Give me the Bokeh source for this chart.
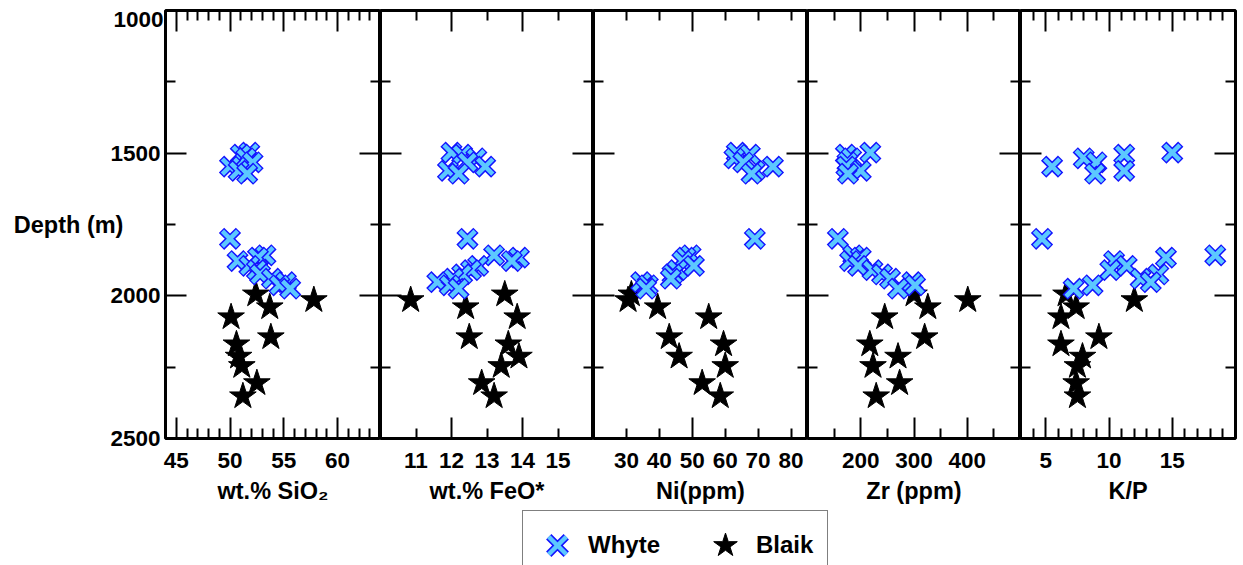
from bokeh.plotting import figure
from bokeh.layouts import row, column
from bokeh.models import Range1d, LinearAxis, FixedTicker, Legend, LegendItem
from bokeh.embed import file_html
from bokeh.resources import INLINE

FONT = "Liberation Sans"
TICK_FONT_SIZE = "22.5px"
TITLE_FONT_SIZE = "23.5px"

# Whyte samples: depth (m) and chemistry
whyte_depth = [1498, 1505, 1518, 1532, 1547, 1562, 1572,
               1800, 1858, 1866, 1878, 1895, 1910, 1925, 1940, 1952, 1963, 1975]
whyte_sio2 = [51.8, 51.0, 51.5, 52.1, 50.0, 50.8, 51.6,
              50.0, 53.3, 52.6, 50.7, 51.8, 52.5, 52.8, 53.9, 55.2, 54.6, 55.6]
whyte_feo = [12.0, 12.3, 12.7, 12.45, 12.95, 11.9, 12.2,
             12.45, 13.2, 13.9, 13.7, 12.75, 12.55, 12.3, 12.05, 11.6, 11.95, 12.2]
whyte_ni = [63.5, 67.5, 62.8, 65.5, 74.5, 69.0, 68.0,
            69.0, 49.5, 48.0, 47.0, 50.5, 45.5, 44.0, 43.5, 34.5, 36.5, 36.0]
whyte_zr = [218, 172, 182, 175, 173, 200, 176,
            157, 186, 200, 180, 195, 222, 240, 255, 297, 302, 270]
whyte_kp = [15.0, 11.2, 8.0, 9.0, 5.5, 11.2, 8.9,
            4.7, 18.4, 14.5, 10.4, 11.4, 10.1, 13.9, 12.5, 13.3, 8.7, 7.2]

# Blaik samples: depth (m) and chemistry
blaik_depth = [1995, 2015, 2040, 2075, 2145, 2170, 2213, 2246, 2306, 2352]
blaik_sio2 = [52.4, 57.8, 53.7, 50.1, 53.8, 50.6, 50.8, 51.1, 52.5, 51.2]
blaik_feo = [13.5, 10.85, 12.4, 13.85, 12.5, 13.6, 13.9, 13.4, 12.85, 13.2]
blaik_ni = [31.5, 30.5, 39.5, 55.0, 43.0, 59.5, 46.0, 60.0, 53.0, 58.5]
blaik_zr = [300, 401, 326, 245, 320, 217, 270, 223, 273, 229]
blaik_kp = [6.6, 12.0, 7.4, 6.2, 9.2, 6.2, 7.9, 7.5, 7.4, 7.5]

# Axis ticks and labels
depth_ticks = [1000, 1500, 2000, 2500]
depth_minor = [1250, 1750, 2250]
sio2_labels = [45, 50, 55, 60]
feo_labels = [11, 12, 13, 14, 15]
ni_labels = [30, 40, 50, 60, 70, 80]
zr_labels = [200, 300, 400]
kp_labels = [5, 10, 15]

panels = [
    dict(title="wt.% SiO\u2082", w=whyte_sio2, b=blaik_sio2, rng=(44, 64),
         labels=sio2_labels, major=[45, 50, 55, 60],
         minor=[v for v in range(45, 64) if v % 5], fw=215),
    dict(title="wt.% FeO*", w=whyte_feo, b=blaik_feo, rng=(10, 16),
         labels=feo_labels, major=[12, 14], minor=[11, 13, 15], fw=213),
    dict(title="Ni(ppm)", w=whyte_ni, b=blaik_ni, rng=(20, 85),
         labels=ni_labels, major=[50], minor=[30, 40, 60, 70, 80], fw=214),
    dict(title="Zr (ppm)", w=whyte_zr, b=blaik_zr, rng=(100, 500),
         labels=zr_labels, major=[200, 300, 400], minor=[150, 250, 350, 450], fw=213),
    dict(title="K/P", w=whyte_kp, b=blaik_kp, rng=(3, 20),
         labels=kp_labels, major=[5, 10, 15],
         minor=[v for v in range(4, 20) if v % 5], fw=215),
]

FRAME_H = 428
DEPTH_TOP, DEPTH_BOTTOM = 1000, 2500
M_PER_PX = (DEPTH_BOTTOM - DEPTH_TOP) / FRAME_H

X_EDGE = "#1414FF"
X_FILL = "#5CC8FF"
X_SIZE_OUT, X_SIZE_IN = 24, 21.5
X_LW_OUT, X_LW_IN = 7.5, 4.5
STAR_SIZE = 28


def tick_axis(ticks, minor, fixed):
    return LinearAxis(
        ticker=FixedTicker(ticks=ticks, minor_ticks=minor),
        fixed_location=fixed,
        axis_line_color=None,
        major_label_text_color=None,
        major_tick_in=21, major_tick_out=0,
        minor_tick_in=10, minor_tick_out=0,
        major_tick_line_width=2, minor_tick_line_width=2,
        major_tick_line_color="black", minor_tick_line_color="black",
    )


def depth_label_axis(ticks, standoff, **kw):
    return LinearAxis(
        ticker=FixedTicker(ticks=ticks, minor_ticks=[]),
        axis_line_color=None, major_tick_line_color=None,
        major_tick_in=0, major_tick_out=0, minor_tick_in=0, minor_tick_out=0,
        major_label_standoff=standoff,
        major_label_text_font=FONT, major_label_text_font_style="bold",
        major_label_text_font_size=TICK_FONT_SIZE, major_label_text_color="black",
        **kw,
    )


figs = []
n = len(panels)
for i, cfg in enumerate(panels):
    x0, x1 = cfg["rng"]
    p = figure(
        frame_width=cfg["fw"], frame_height=FRAME_H,
        x_range=Range1d(x0, x1), y_range=Range1d(DEPTH_BOTTOM, DEPTH_TOP),
        x_axis_location=None, y_axis_location=None,
        toolbar_location=None, output_backend="svg",
        min_border_left=165 if i == 0 else 0,
        min_border_right=8 if i == n - 1 else 0,
        min_border_top=10, min_border_bottom=72,
        outline_line_color="black", outline_line_width=3,
        background_fill_color="white", border_fill_color="white",
    )
    p.grid.grid_line_color = None

    # Tick marks on all four sides, pointing inward
    p.add_layout(tick_axis(depth_ticks, depth_minor, x0), "left")
    p.add_layout(tick_axis(depth_ticks, depth_minor, x1), "right")
    p.add_layout(tick_axis(cfg["major"], cfg["minor"], DEPTH_TOP), "above")
    p.add_layout(tick_axis(cfg["major"], cfg["minor"], DEPTH_BOTTOM), "below")

    # Labelled bottom axis
    xb = LinearAxis(
        ticker=FixedTicker(ticks=cfg["labels"], minor_ticks=[]),
        axis_line_color=None, major_tick_line_color=None,
        major_tick_in=0, major_tick_out=0, minor_tick_in=0, minor_tick_out=0,
        major_label_standoff=14,
        major_label_text_font=FONT, major_label_text_font_style="bold",
        major_label_text_font_size=TICK_FONT_SIZE, major_label_text_color="black",
        axis_label=cfg["title"], axis_label_standoff=7,
        axis_label_text_font=FONT, axis_label_text_font_style="bold",
        axis_label_text_font_size=TITLE_FONT_SIZE, axis_label_text_color="black",
    )
    p.add_layout(xb, "below")

    if i == 0:
        # Top depth label, nudged down so it stays inside the page
        nudge = 9 * M_PER_PX
        p.extra_y_ranges = {"top_label": Range1d(DEPTH_BOTTOM - nudge, DEPTH_TOP - nudge)}
        yt = depth_label_axis(depth_ticks[:1], 2, y_range_name="top_label")
        p.add_layout(yt, "left")
        # Remaining depth labels, pulled back in next to the frame
        yl = depth_label_axis(
            depth_ticks[1:], -50,
            axis_label="Depth (m)", axis_label_orientation="horizontal",
            axis_label_standoff=-16,
            axis_label_text_font=FONT, axis_label_text_font_style="bold",
            axis_label_text_font_size=TITLE_FONT_SIZE, axis_label_text_color="black",
        )
        p.add_layout(yl, "left")

    # Blaik stars underneath, Whyte crosses on top (each cross outlined)
    p.scatter(cfg["b"], blaik_depth, marker="star", size=STAR_SIZE,
              fill_color="black", line_color="black")
    for xv, dv in zip(cfg["w"], whyte_depth):
        p.scatter([xv], [dv], marker="x", size=X_SIZE_OUT,
                  line_color=X_EDGE, line_width=X_LW_OUT)
        p.scatter([xv], [dv], marker="x", size=X_SIZE_IN,
                  line_color=X_FILL, line_width=X_LW_IN)
    figs.append(p)

# Legend strip; the key glyphs sit outside its visible range
leg = figure(width=1243, height=55, x_range=Range1d(0, 1), y_range=Range1d(0, 1),
             x_axis_location=None, y_axis_location=None,
             toolbar_location=None, output_backend="svg", min_border=0,
             outline_line_color=None)
leg.grid.grid_line_color = None
r_out = leg.scatter([-1], [-1], marker="x", size=X_SIZE_OUT, line_color=X_EDGE, line_width=X_LW_OUT)
r_in = leg.scatter([-1], [-1], marker="x", size=X_SIZE_IN, line_color=X_FILL, line_width=X_LW_IN)
r_star = leg.scatter([-1], [-1], marker="star", size=STAR_SIZE, fill_color="black", line_color="black")
legend = Legend(
    items=[LegendItem(label="Whyte", renderers=[r_out, r_in]),
           LegendItem(label="Blaik", renderers=[r_star])],
    orientation="horizontal", location=(522, -15), margin=0,
    glyph_width=62, glyph_height=62, padding=3, spacing=34,
    label_standoff=0, label_width=68,
    border_line_color="black", border_line_width=1,
    background_fill_color="white", background_fill_alpha=1,
    label_text_font=FONT, label_text_font_style="bold", label_text_font_size="24px",
    label_text_color="black",
)
leg.add_layout(legend, "center")

layout = column(row(*figs, spacing=0), leg, spacing=0)
open("out.html", "w").write(file_html(layout, INLINE))
